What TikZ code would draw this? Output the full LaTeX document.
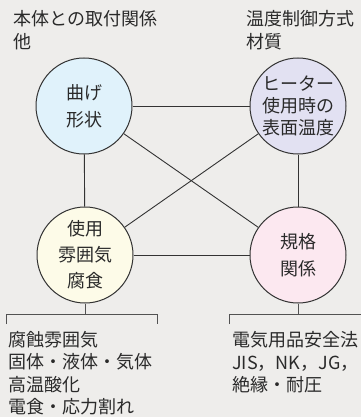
\documentclass[tikz,border=0pt]{standalone}
\usepackage{fontspec}
\setmainfont{Noto Sans CJK JP}
\definecolor{bggray}{HTML}{EEEDEB}
\definecolor{linegray}{HTML}{333333}
\definecolor{textgray}{HTML}{2A2A2A}
\definecolor{bendblue}{HTML}{E0F2FB}
\definecolor{heaterlilac}{HTML}{E2E1F2}
\definecolor{envcream}{HTML}{FDFBE8}
\definecolor{normpink}{HTML}{FCE8F0}
\begin{document}
\begin{tikzpicture}[x=1pt,y=1pt,yscale=-1,
  topic/.style={circle,draw=linegray,line width=1pt,minimum size=96pt,inner sep=0pt,
    align=center,text=textgray},
  note/.style={anchor=base west,align=left,inner sep=0pt,text=textgray,
    font=\fontsize{18}{22.5}\selectfont},
  link/.style={draw=linegray,line width=0.9pt},
  bracket/.style={draw=linegray!85,line width=1pt}]

% Background
\fill[bggray] (0,0) rectangle (361,417);
\useasboundingbox (0,0) rectangle (361,417);

% Topics
\node[topic,fill=bendblue,font=\fontsize{18}{27}\selectfont]   (bend)   at (84,106)  {曲げ\\形状};
\node[topic,fill=heaterlilac,font=\fontsize{18}{22}\selectfont] (heater) at (298,106) {ヒーター\\使用時の\\表面温度};
\node[topic,fill=envcream,font=\fontsize{18}{26}\selectfont]   (env)    at (85,255)  {使用\\雰囲気\\腐食};
\node[topic,fill=normpink,font=\fontsize{18}{27}\selectfont]   (norm)   at (298,255) {規格\\関係};

% Links
\draw[link] (bend) -- (heater);
\draw[link] (env) -- (norm);
\draw[link] (bend) -- (env);
\draw[link] (heater) -- (norm);
\draw[link] (bend) -- (norm);
\draw[link] (heater) -- (env);

% Notes (base = last line)
\node[note] (bendnote)   at (13,48.5)  {本体との取付関係\\他};
\node[note] (heaternote) at (246,48.5) {温度制御方式\\材質};
\node[note] (envnote)    at (8,413.5)  {腐蝕雰囲気\\固体・液体・気体\\高温酸化\\電食・応力割れ};
\node[note] (normnote)   at (232,391.5) {電気用品安全法\\JIS，NK，JG，\\絶縁・耐圧};

% Brackets
\draw[bracket] (env.south) -- ++(0,11) coordinate (envjoint);
\draw[bracket] (6,324) |- (157,314) -- (157,324);
\draw[bracket] (norm.south) -- ++(0,11) coordinate (normjoint);
\draw[bracket] (229,324) |- (361,314);

\end{tikzpicture}
\end{document}
